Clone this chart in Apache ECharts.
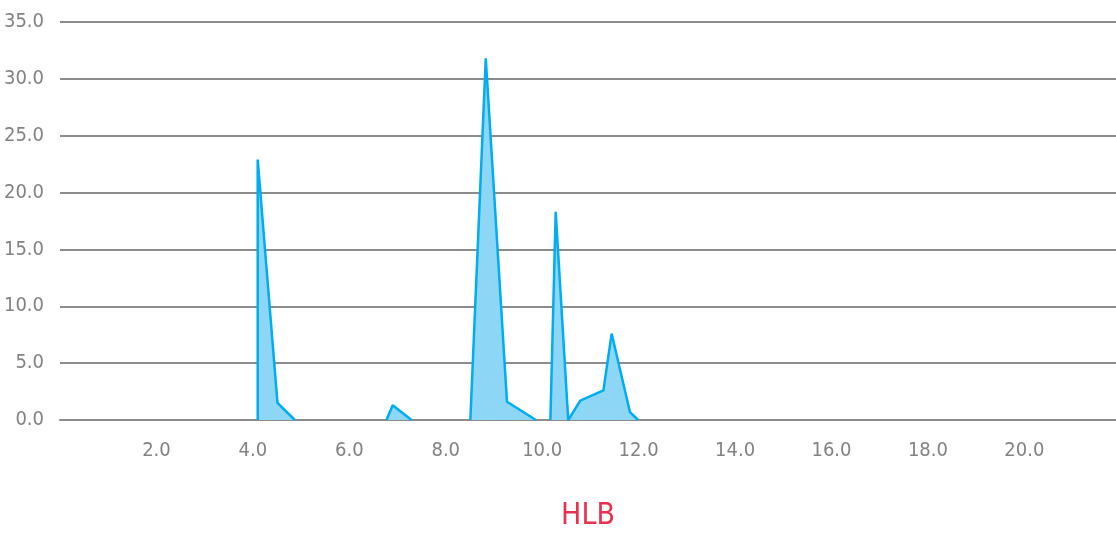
<!DOCTYPE html>
<html>
<head>
<meta charset="utf-8">
<script src="https://cdn.jsdelivr.net/npm/echarts@6/dist/echarts.min.js"></script>
<style>
html,body{margin:0;padding:0;background:#fff;}
#chart{width:1116px;height:533px;}
</style>
</head>
<body>
<div id="chart"></div>
<script>
// HLB (x) vs value (y); null separates drawn segments
var hlbValues = [4.10, 4.10, 4.51, 4.87, null, 6.77, 6.90, 7.29, null, 8.51, 8.83, 9.27, 9.87, null, 10.17, 10.28, 10.54, 10.79, 11.27, 11.44, 11.82, 11.99];
var amountValues = [0, 22.9, 1.5, 0, null, 0, 1.3, 0, null, 0, 31.8, 1.6, 0, null, 0, 18.3, 0, 1.7, 2.6, 7.6, 0.7, 0];
var xAxisName = 'HLB';

var seriesData = hlbValues.map(function (x, i) {
  return x === null ? null : [x, amountValues[i]];
});

var FONT = "'Liberation Sans Narrow', 'DejaVu Sans Condensed', 'Roboto', sans-serif";
var chart = echarts.init(document.getElementById('chart'));
chart.setOption({
  animation: false,
  grid: { left: 60, right: 0, top: 22, bottom: 113, containLabel: false, outerBoundsMode: 'none' },
  xAxis: {
    type: 'value',
    min: 0,
    max: 21.9,
    interval: 2,
    name: xAxisName,
    nameLocation: 'middle',
    nameGap: 81,
    nameTextStyle: { color: '#E8304F', fontSize: 30, fontFamily: FONT },
    axisLine: { show: true, lineStyle: { color: '#8c8c8c', width: 2 } },
    axisTick: { show: false },
    splitLine: { show: false },
    axisLabel: {
      showMinLabel: false,
      showMaxLabel: false,
      color: '#828282',
      fontSize: 20,
      fontFamily: FONT,
      margin: 21,
      formatter: function (v) { return v.toFixed(1); }
    }
  },
  yAxis: {
    type: 'value',
    min: 0,
    max: 35,
    interval: 5,
    axisLine: { show: false },
    axisTick: { show: false },
    splitLine: { show: true, lineStyle: { color: '#8c8c8c', width: 2 } },
    axisLabel: {
      color: '#828282',
      fontSize: 20,
      fontFamily: FONT,
      margin: 16,
      formatter: function (v) { return v.toFixed(1); }
    }
  },
  series: [{
    type: 'line',
    data: seriesData,
    connectNulls: false,
    symbol: 'none',
    lineStyle: { color: '#00ADEE', width: 2.5 },
    areaStyle: { color: '#8DD6F6', opacity: 1 },
    z: 3
  }]
});
</script>
</body>
</html>
